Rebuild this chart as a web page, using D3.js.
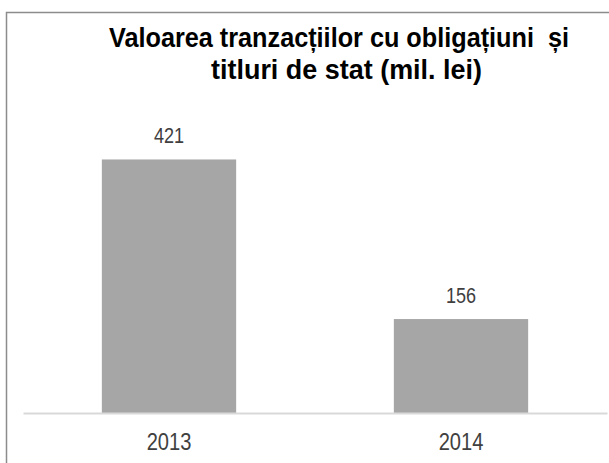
<!DOCTYPE html>
<html>
<head>
<meta charset="utf-8">
<script src="https://cdn.jsdelivr.net/npm/d3@7"></script>
<style>
  body { margin: 0; background: #fff; }
  svg { display: block; }
  .narrow { font-family: "Liberation Sans Narrow", "Arial Narrow", "Liberation Sans", Arial, sans-serif; }
</style>
</head>
<body>
<script>
// data
var years = ["2013", "2014"];
var values = [421, 156];
var titleLines = ["Valoarea tranzacțiilor cu obligațiuni  și", "titluri de stat (mil. lei)"];

var W = 609, H = 463;
var svg = d3.select("body").append("svg")
  .attr("width", W)
  .attr("height", H);

// squeeze text like Arial Narrow (no narrow font installed here)
function condense(sel) {
  sel.each(function() {
    var len = this.getComputedTextLength();
    d3.select(this)
      .attr("textLength", len * 0.82)
      .attr("lengthAdjust", "spacingAndGlyphs");
  });
}

// outer frame (runs off the right / bottom edge like the source)
svg.append("rect")
  .attr("x", 6.5).attr("y", 12.5)
  .attr("width", 700).attr("height", 600)
  .attr("fill", "#fff")
  .attr("stroke", "#8c8c8c")
  .attr("stroke-width", 1.5);

var x = d3.scaleBand()
  .domain(years)
  .range([23, 607])
  .paddingInner(0.54)
  .paddingOuter(0.27);

var y = d3.scaleLinear()
  .domain([0, 450])
  .range([413, 142]);

// title
var titlePos = [{cx: 339, y: 47, len: 460}, {cx: 346.5, y: 79, len: 271}];
svg.append("g").selectAll("text")
  .data(titleLines)
  .enter().append("text")
  .attr("class", "narrow")
  .attr("x", (d, i) => titlePos[i].cx)
  .attr("y", (d, i) => titlePos[i].y)
  .attr("text-anchor", "middle")
  .attr("font-size", 27.5)
  .attr("font-weight", "bold")
  .attr("fill", "#000")
  .attr("textLength", (d, i) => titlePos[i].len)
  .attr("lengthAdjust", "spacingAndGlyphs")
  .style("white-space", "pre")
  .text(d => d);

// bars
svg.append("g").selectAll("rect")
  .data(values)
  .enter().append("rect")
  .attr("x", (d, i) => x(years[i]))
  .attr("y", d => y(d))
  .attr("width", x.bandwidth())
  .attr("height", d => y(0) - y(d))
  .attr("fill", "#a6a6a6");

// value labels
svg.append("g").selectAll("text")
  .data(values)
  .enter().append("text")
  .attr("class", "narrow")
  .attr("x", (d, i) => x(years[i]) + x.bandwidth() / 2)
  .attr("y", d => y(d) - 16)
  .attr("text-anchor", "middle")
  .attr("font-size", 22)
  .attr("fill", "#404040")
  .text(d => d)
  .call(condense);

// baseline + category axis
var axis = svg.append("g")
  .attr("transform", "translate(0," + y(0) + ")")
  .call(d3.axisBottom(x).tickSize(0).tickPadding(20));
axis.select(".domain")
  .attr("stroke", "#d9d9d9")
  .attr("stroke-width", 2);
axis.selectAll("text")
  .attr("class", "narrow")
  .attr("font-size", 24.5)
  .attr("fill", "#404040")
  .call(condense);
</script>
</body>
</html>
